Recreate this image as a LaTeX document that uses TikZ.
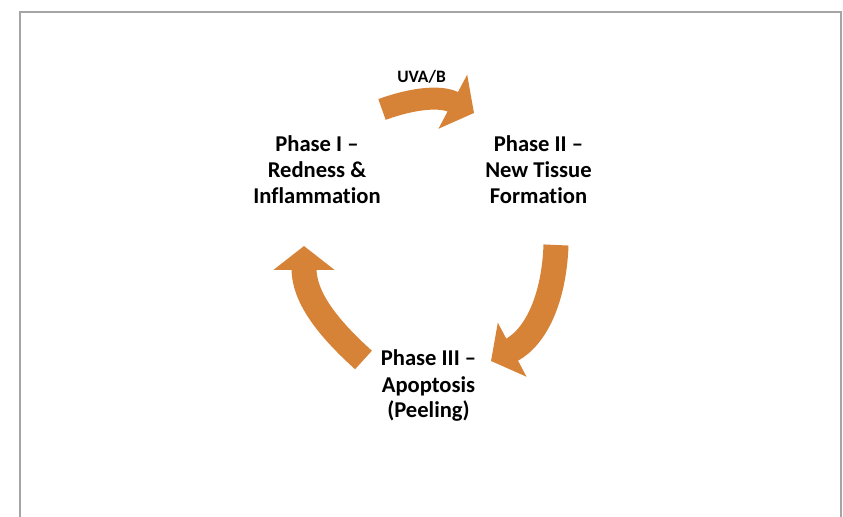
\documentclass[tikz,border=0pt]{standalone}
\usepackage{fontspec}
\setmainfont{Carlito}[Ligatures={TeX,NoCommon}]
\usepackage{xcolor}
\usetikzlibrary{arrows.meta}
\definecolor{cycorange}{RGB}{214,131,56}
\definecolor{framegray}{RGB}{165,165,165}

\begin{document}
\begin{tikzpicture}[
  x=0.5pt,y=0.5pt,
  phase/.style={align=center,inner sep=0pt,font=\fontsize{11.3}{13}\selectfont\bfseries},
  cyc/.style={draw=cycorange,line width=12.5pt,
    -{Triangle[width=30pt,length=12pt]}}
]
  \useasboundingbox (0,0) rectangle (843,517);
  \draw[framegray,line width=1pt] (20,0) -- (20,505) -- (841,505) -- (841,0);

  \node[phase] (p1) at (317,347.5) {Phase I –\\Redness \&\\Inflammation};
  \node[phase] (p2) at (538.5,347.5) {Phase II –\\New Tissue\\Formation};
  \node[phase] (p3) at (428.5,131) {Phase III –\\Apoptosis\\(Peeling)};
  \node[anchor=base,inner sep=0pt,font=\fontsize{8.7}{10}\selectfont\bfseries]
    (uv) at (421.5,434) {UVA/B};

  \coordinate (t1) at (382,407.5);
  \coordinate (h1) at (474,404);
  \coordinate (t2) at (556,272);
  \coordinate (h2) at (491,156);
  \coordinate (t3) at (363.5,157);
  \coordinate (h3) at (304,271);

  \draw[cyc,line width=11pt] (t1) to[out=20,in=152] (h1);
  \draw[cyc] (t2) to[out=-92,in=28] (h2);
  \draw[cyc] (t3) to[out=138,in=-90] (h3);
\end{tikzpicture}
\end{document}
